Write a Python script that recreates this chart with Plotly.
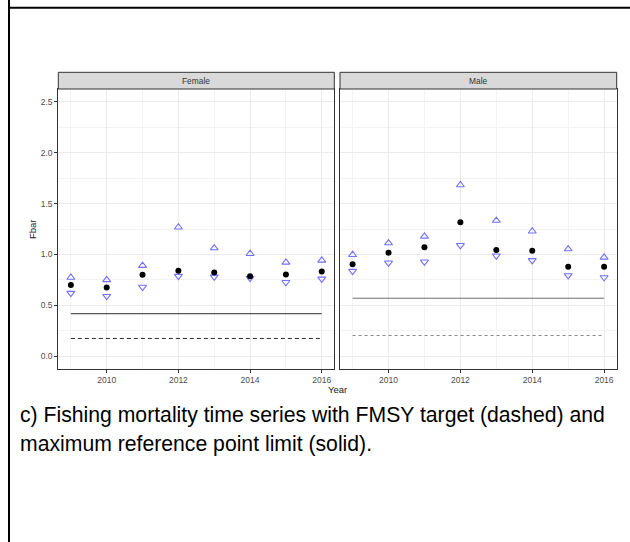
import plotly.graph_objects as go

# Fishing mortality (Fbar) by sex with confidence bounds
years = [2009, 2010, 2011, 2012, 2013, 2014, 2015, 2016]

female_fbar = [0.70, 0.675, 0.80, 0.84, 0.823, 0.787, 0.803, 0.833]
female_upper = [0.774, 0.75, 0.89, 1.267, 1.063, 1.007, 0.922, 0.942]
female_lower = [0.62, 0.59, 0.68, 0.787, 0.78, 0.767, 0.727, 0.76]

male_fbar = [0.905, 1.017, 1.07, 1.317, 1.043, 1.037, 0.879, 0.879]
male_upper = [0.997, 1.112, 1.178, 1.682, 1.333, 1.228, 1.053, 0.971]
male_lower = [0.836, 0.918, 0.928, 1.09, 0.987, 0.942, 0.794, 0.774]

panels = ["Female", "Male"]
limit_values = [0.418, 0.57]     # maximum reference point limit (solid)
target_values = [0.175, 0.204]   # FMSY target (dashed)

y_ticks = [0.0, 0.5, 1.0, 1.5, 2.0, 2.5]
x_ticks = [2010, 2012, 2014, 2016]

caption_lines = [
    "c) Fishing mortality time series with FMSY target (dashed) and",
    "maximum reference point limit (solid).",
]

W, H = 630, 542


def px(x):
    return x / W


def py(y):
    return 1 - y / H


fig = go.Figure()

series = [
    (female_fbar, female_upper, female_lower),
    (male_fbar, male_upper, male_lower),
]
limit_styles = [dict(color="#2b2b2b", width=1), dict(color="#6e6e6e", width=1)]
target_styles = [dict(color="#2b2b2b", width=1, dash="4px,3px"),
                 dict(color="#8a8a8a", width=1, dash="3px,3px")]
tri_color = "rgba(40,40,255,0.65)"

for i, (fbar, up, lo) in enumerate(series):
    xa = "x" if i == 0 else "x2"
    ya = "y" if i == 0 else "y2"
    fig.add_trace(go.Scatter(
        x=[years[0], years[-1]], y=[limit_values[i]] * 2, mode="lines",
        line=limit_styles[i], xaxis=xa, yaxis=ya, showlegend=False, hoverinfo="skip"))
    fig.add_trace(go.Scatter(
        x=[years[0], years[-1]], y=[target_values[i]] * 2, mode="lines",
        line=target_styles[i], xaxis=xa, yaxis=ya, showlegend=False, hoverinfo="skip"))
    fig.add_trace(go.Scatter(
        x=years, y=up, mode="markers",
        marker=dict(symbol="triangle-up-open", size=7, color=tri_color,
                    line=dict(width=1.1, color=tri_color)),
        xaxis=xa, yaxis=ya, showlegend=False))
    fig.add_trace(go.Scatter(
        x=years, y=lo, mode="markers",
        marker=dict(symbol="triangle-down-open", size=7, color=tri_color,
                    line=dict(width=1.1, color=tri_color)),
        xaxis=xa, yaxis=ya, showlegend=False))
    fig.add_trace(go.Scatter(
        x=years, y=fbar, mode="markers",
        marker=dict(symbol="circle", size=6, color="black"),
        xaxis=xa, yaxis=ya, showlegend=False))

plot_top, plot_bottom = 89, 369
strip_top = 72.3
domains_px = [(58.3, 334.3), (340.0, 616.7)]

grid = "#ebebeb"
tick_font = dict(family="Liberation Sans, Arial, sans-serif", size=8.5, color="#4d4d4d")

common_x = dict(
    range=[2008.65, 2016.35], tickvals=x_ticks, ticktext=[str(v) for v in x_ticks],
    showgrid=True, gridcolor=grid, gridwidth=1,
    minor=dict(dtick=1, tick0=2009, showgrid=True, gridcolor="#f3f3f3", gridwidth=0.6, ticks=""),
    ticks="outside", ticklen=3, tickwidth=0.8, tickcolor="#333333",
    showline=True, linecolor="#333333", linewidth=1, mirror=True,
    zeroline=False, tickfont=tick_font,
)
common_y = dict(
    range=[-0.125, 2.625], tickvals=y_ticks,
    ticktext=[f"{v:.1f}" for v in y_ticks],
    showgrid=True, gridcolor=grid, gridwidth=1,
    minor=dict(dtick=0.25, tick0=0, showgrid=True, gridcolor="#f3f3f3", gridwidth=0.6, ticks=""),
    showline=True, linecolor="#333333", linewidth=1, mirror=True,
    zeroline=False, tickfont=tick_font,
)

fig.update_layout(
    xaxis=dict(domain=[px(domains_px[0][0]), px(domains_px[0][1])], anchor="y", **common_x),
    xaxis2=dict(domain=[px(domains_px[1][0]), px(domains_px[1][1])], anchor="y2", **common_x),
    yaxis=dict(domain=[py(plot_bottom), py(plot_top)], anchor="x",
               ticks="outside", ticklen=3, tickwidth=0.8, tickcolor="#333333", **common_y),
    yaxis2=dict(domain=[py(plot_bottom), py(plot_top)], anchor="x2", matches="y",
                ticks="", showticklabels=False, **common_y),
)

shapes = []
annotations = []
for i, (x0, x1) in enumerate(domains_px):
    shapes.append(dict(type="rect", xref="paper", yref="paper",
                       x0=px(x0), x1=px(x1), y0=py(plot_top), y1=py(strip_top),
                       fillcolor="#d9d9d9", line=dict(color="#333333", width=1)))
    annotations.append(dict(text=panels[i], xref="paper", yref="paper",
                            x=px((x0 + x1) / 2), y=py((strip_top + plot_top) / 2),
                            xanchor="center", yanchor="middle", showarrow=False,
                            font=dict(family="Liberation Sans, Arial, sans-serif",
                                      size=8.4, color="#333333")))

# outer frame
shapes.append(dict(type="line", xref="paper", yref="paper",
                   x0=px(9), x1=px(9), y0=0, y1=1, line=dict(color="black", width=2)))
shapes.append(dict(type="line", xref="paper", yref="paper",
                   x0=px(9), x1=1, y0=py(7.8), y1=py(7.8), line=dict(color="black", width=2)))

annotations.append(dict(text="Year", xref="paper", yref="paper",
                        x=px(337.5), y=py(389.5), xanchor="center", yanchor="middle",
                        showarrow=False,
                        font=dict(family="Liberation Sans, Arial, sans-serif", size=9.5, color="#1a1a1a")))
annotations.append(dict(text="Fbar", xref="paper", yref="paper", textangle=-90,
                        x=px(33), y=py(229), xanchor="center", yanchor="middle",
                        showarrow=False,
                        font=dict(family="Liberation Sans, Arial, sans-serif", size=9.5, color="#1a1a1a")))

for k, line in enumerate(caption_lines):
    annotations.append(dict(text=line, xref="paper", yref="paper",
                            x=px(18), y=py(415 + 28.5 * k), xanchor="left", yanchor="middle",
                            showarrow=False,
                            font=dict(family="Liberation Sans, Arial, sans-serif", size=21.2, color="black")))

fig.update_layout(
    width=W, height=H, margin=dict(l=0, r=0, t=0, b=0),
    paper_bgcolor="white", plot_bgcolor="white",
    shapes=shapes, annotations=annotations, showlegend=False,
)

fig.write_html("out.html")
